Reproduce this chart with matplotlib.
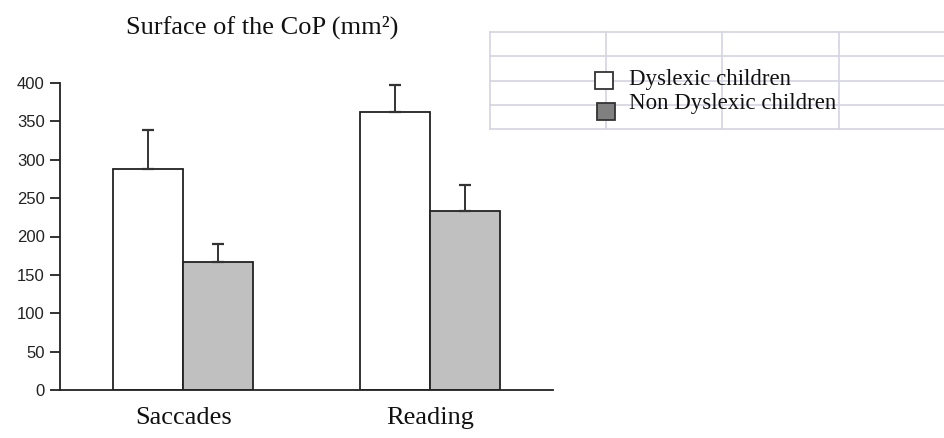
import matplotlib
matplotlib.use("Agg")
import matplotlib.pyplot as plt
from matplotlib.lines import Line2D
from matplotlib.patches import Rectangle
import numpy as np

# Data
conditions = ["Saccades", "Reading"]
dyslexic = [288, 362]
dyslexic_err = [51, 35]
non_dyslexic = [167, 233]
non_dyslexic_err = [23, 34]
y_ticks = [0, 50, 100, 150, 200, 250, 300, 350, 400]
legend_labels = ["Dyslexic children", "Non Dyslexic children"]

W, H = 944, 438
fig = plt.figure(figsize=(W / 100, H / 100), dpi=100)
fig.patch.set_facecolor("white")

def fx(px):
    return px / W

def fy(py):
    return 1 - py / H

ax = fig.add_axes([fx(60), fy(390), fx(553) - fx(60), fy(83) - fy(390)])

x = np.arange(len(conditions))
w = 0.284
ekw = dict(ecolor="#333333", elinewidth=1.4, capsize=4, capthick=1.6)
ax.bar(x - w / 2, dyslexic, w, color="white", edgecolor="#222222", linewidth=1.3,
       yerr=[[0, 0], dyslexic_err], error_kw=ekw, zorder=2)
ax.bar(x + w / 2, non_dyslexic, w, color="#c0c0c0", edgecolor="#222222", linewidth=1.3,
       yerr=[[0, 0], non_dyslexic_err], error_kw=ekw, zorder=2)

ax.set_xlim(-0.5, 1.5)
ax.set_ylim(0, 400)
ax.set_yticks(y_ticks)
ax.set_yticklabels([str(t) for t in y_ticks], family="Liberation Sans", fontsize=12, color="#222222")
ax.tick_params(axis="y", direction="out", length=7, width=1.3, color="#222222", pad=4)
ax.set_xticks(x)
ax.set_xticklabels(conditions, family="Liberation Serif", fontsize=19, color="#111111")
ax.tick_params(axis="x", length=0, pad=12)
for s in ["top", "right"]:
    ax.spines[s].set_visible(False)
for s in ["left", "bottom"]:
    ax.spines[s].set_linewidth(1.3)
    ax.spines[s].set_color("#222222")

fig.text(fx(262), fy(27), "Surface of the CoP (mm\u00b2)", family="Liberation Serif",
         fontsize=19, ha="center", va="center", color="#111111")

# spreadsheet grid behind the legend
grid_color = "#d4d4e4"
rows = [32, 56, 81, 105, 129]
cols = [490, 606, 722, 839]
for r in rows:
    fig.add_artist(Line2D([fx(490), fx(944)], [fy(r), fy(r)], color=grid_color, lw=1.2, zorder=1))
for c in cols:
    fig.add_artist(Line2D([fx(c), fx(c)], [fy(32), fy(129)], color=grid_color, lw=1.2, zorder=1))

# legend
fig.add_artist(Rectangle((fx(595), fy(89)), fx(18), fy(72) - fy(89), facecolor="white",
                         edgecolor="#333333", lw=1.3, transform=fig.transFigure, zorder=5))
fig.add_artist(Rectangle((fx(597), fy(120)), fx(18), fy(103) - fy(120), facecolor="#808080",
                         edgecolor="#333333", lw=1.3, transform=fig.transFigure, zorder=5))
fig.text(fx(629), fy(79), legend_labels[0], family="Liberation Serif", fontsize=16.5,
         ha="left", va="center", color="#111111", zorder=6)
fig.text(fx(629), fy(103), legend_labels[1], family="Liberation Serif", fontsize=16.5,
         ha="left", va="center", color="#111111", zorder=6)

fig.savefig("out.png", dpi=100)
